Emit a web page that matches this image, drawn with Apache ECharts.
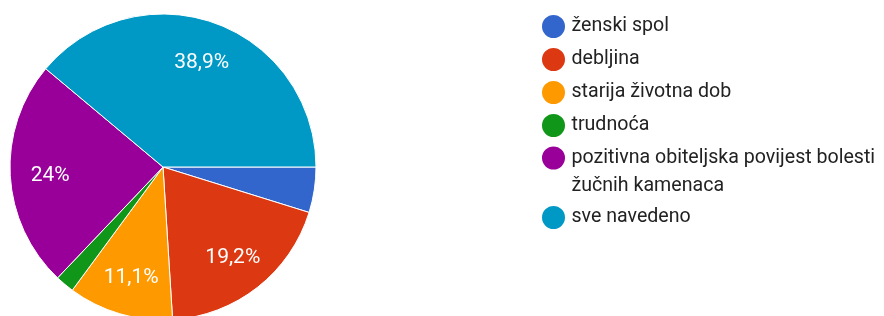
<!DOCTYPE html>
<html>
<head>
<meta charset="utf-8">
<script src="https://cdn.jsdelivr.net/npm/echarts@6/dist/echarts.min.js"></script>
<style>
  html, body { margin: 0; padding: 0; background: #fff; }
  #chart { width: 884px; height: 316px; }
</style>
</head>
<body>
<div id="chart"></div>
<script>
// kategorije i postoci (očitano sa slike)
var categories = ['ženski spol', 'debljina', 'starija životna dob', 'trudnoća',
                  'pozitivna obiteljska povijest bolesti\nžučnih kamenaca', 'sve navedeno'];
var values = [4.8, 19.2, 11.1, 2.0, 24.0, 38.9];
var colors = ['#3366cc', '#dc3912', '#ff9900', '#109618', '#990099', '#0099c6'];

var chart = echarts.init(document.getElementById('chart'));

var pieData = categories.map(function (name, i) {
  return { name: name, value: values[i], itemStyle: { color: colors[i] } };
});

// zajednička svojstva legende
function legend(top, data, lineHeight) {
  return {
    orient: 'vertical',
    left: 540,
    top: top,
    padding: 0,
    icon: 'circle',
    itemWidth: 26,
    itemHeight: 25,
    itemGap: 6,
    selectedMode: false,
    textStyle: { fontFamily: 'Roboto', fontSize: 19.6, color: '#222', lineHeight: lineHeight || 26 },
    // dvoredni tekst: prazan red iznad da prvi red stoji uz ikonu
    formatter: function (name) {
      return name.indexOf('\n') >= 0 ? '\n' + name : name;
    },
    data: data
  };
}

var option = {
  animation: false,
  legend: [
    legend(13, categories.slice(0, 4)),
    legend(116, [categories[4]], 28),
    legend(204, [categories[5]])
  ],
  series: [{
    type: 'pie',
    center: [163, 167],
    radius: 153,
    startAngle: 0,
    clockwise: true,
    percentPrecision: 1,
    label: { show: false },
    labelLine: { show: false },
    emphasis: { disabled: true },
    itemStyle: { borderColor: '#fff', borderWidth: 1 },
    data: pieData
  }, {
    // samo za oznake postotaka
    type: 'pie',
    center: [163, 169],
    radius: [67, 153],
    startAngle: 0,
    clockwise: true,
    percentPrecision: 1,
    silent: true,
    emphasis: { disabled: true },
    itemStyle: { color: 'rgba(0,0,0,0)' },
    labelLine: { show: false },
    label: {
      show: true,
      position: 'inside',
      color: '#fff',
      fontFamily: 'Roboto',
      fontSize: 21,
      formatter: function (p) {
        if (p.percent < 5) return '';
        return String(p.percent).replace('.', ',') + '%';
      }
    },
    data: pieData.map(function (d) { return { name: d.name, value: d.value }; })
  }]
};

chart.setOption(option);
</script>
</body>
</html>
